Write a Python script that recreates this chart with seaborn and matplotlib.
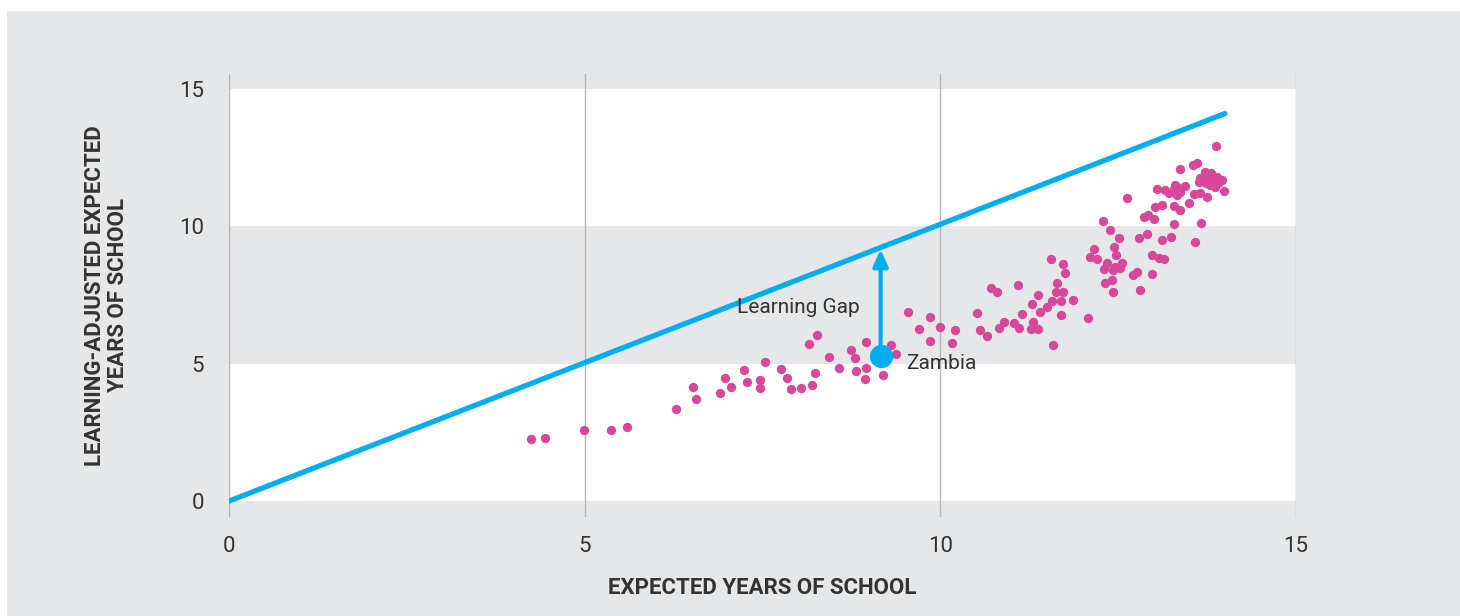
import numpy as np
import pandas as pd
import matplotlib
matplotlib.use('Agg')
import matplotlib.pyplot as plt
from matplotlib.patches import Rectangle
import seaborn as sns

# countries: expected years of school vs learning-adjusted expected years
exp_years = [4.25, 4.44, 4.99, 5.37, 5.60, 6.28, 6.52, 6.57, 6.90, 6.97, 7.06, 7.24, 7.28,
             7.46, 7.47, 7.53, 7.76, 7.85, 7.90, 8.04, 8.19, 8.24, 8.16, 8.26, 8.44, 8.57,
             8.75, 8.80, 8.81, 8.95, 8.96, 8.94, 9.19, 9.31, 9.37, 9.55, 9.70, 9.86, 9.86,
             10.00, 10.21, 10.16, 10.52, 10.56, 10.66, 10.71, 10.80, 10.82, 10.90, 11.03,
             11.10, 11.09, 11.15, 11.27, 11.30, 11.37, 11.29, 11.37, 11.40, 11.50, 11.57,
             11.62, 11.64, 11.69, 11.69, 11.73, 11.72, 11.75, 11.56, 11.58, 11.87, 12.08,
             12.10, 12.16, 12.20, 12.30, 12.35, 12.32, 12.41, 12.43, 12.44, 12.47, 12.51,
             12.39, 12.28, 12.46, 12.56, 12.43, 12.52, 12.71, 12.76, 12.81, 12.79, 12.98,
             12.97, 13.07, 13.15, 12.91, 13.12, 13.24, 13.28, 13.58, 13.67, 12.86, 12.92,
             13.00, 13.02, 13.11, 13.29, 13.37, 13.50, 12.63, 13.05, 13.16, 13.22, 13.28,
             13.33, 13.33, 13.37, 13.30, 13.44, 13.56, 13.65, 13.75, 13.99, 13.37, 13.55,
             13.61, 13.87, 13.63, 13.65, 13.72, 13.77, 13.80, 13.84, 13.89, 13.91, 13.96,
             13.86, 13.79, 13.74, 13.70]
lays = [2.25, 2.28, 2.57, 2.57, 2.69, 3.36, 4.16, 3.71, 3.94, 4.47, 4.16, 4.76, 4.33,
        4.40, 4.12, 5.06, 4.81, 4.49, 4.08, 4.12, 4.22, 4.66, 5.72, 6.03, 5.25, 4.85,
        5.51, 5.19, 4.74, 5.79, 4.84, 4.45, 4.60, 5.69, 5.35, 6.87, 6.26, 6.69, 5.82,
        6.33, 6.22, 5.74, 6.83, 6.22, 6.02, 7.74, 7.61, 6.30, 6.53, 6.49,
        6.28, 7.85, 6.80, 6.25, 6.53, 6.25, 7.17, 7.50, 6.87, 7.05, 7.28,
        7.60, 7.95, 7.28, 6.78, 7.60, 8.64, 8.29, 8.80, 5.67, 7.33, 6.67,
        8.89, 9.17, 8.80, 8.45, 8.65, 7.94, 8.05, 7.60, 9.24, 8.96, 9.56,
        9.87, 10.20, 8.53, 8.65, 8.41, 8.47, 8.23, 8.35, 7.68, 9.56, 8.28,
        8.94, 8.83, 8.79, 9.73, 9.51, 9.62, 10.08, 9.44, 10.13, 10.33, 10.41,
        10.27, 10.71, 10.79, 10.74, 10.59, 10.86, 11.03, 11.37, 11.32, 11.22, 11.35,
        11.44, 11.14, 11.26, 11.50, 11.47, 11.18, 11.20, 11.08, 11.30, 12.10, 12.23,
        12.29, 12.93, 11.62, 11.75, 11.99, 11.81, 11.93, 11.69, 11.81, 11.57, 11.69,
        11.44, 11.50, 11.57, 11.69]

zambia_x = 9.16
zambia_y = 5.27

line_x = [0, 14]
line_y = [0, 14.1]

ticks = [0, 5, 10, 15]

df = pd.DataFrame({'eys': exp_years, 'layS': lays})

BG = '#e6e7e8'
BLUE = '#00aeef'
PINK = '#d8489a'
TXT = '#333333'

sns.set_style('white')
plt.rcParams['font.family'] = ['Roboto', 'DejaVu Sans']

fig = plt.figure(figsize=(14.6, 6.16), dpi=100)
fig.patches.append(Rectangle((7 / 1460, 0), 1, 1 - 11 / 616, transform=fig.transFigure,
                             facecolor=BG, edgecolor='none', zorder=-10))

ax = fig.add_axes([229 / 1460, 1 - 517 / 616, (1296 - 229) / 1460, (517 - 74) / 616])
ax.set_facecolor(BG)
ax.set_xlim(0, 15)
ax.set_ylim(-0.58, 15.54)

# white bands
ax.axhspan(0, 5, color='white', zorder=0, lw=0)
ax.axhspan(10, 15, color='white', zorder=0, lw=0)

ax.set_xticks(ticks)
ax.set_yticks(ticks)
ax.grid(axis='x', color='#b5b5b5', lw=1, zorder=1)
ax.set_axisbelow(True)
for s in ax.spines.values():
    s.set_visible(False)
ax.tick_params(length=0, labelsize=16, labelcolor=TXT)
ax.tick_params(axis='x', pad=14)
ax.tick_params(axis='y', pad=18)

sns.lineplot(x=line_x, y=line_y, color=BLUE, lw=3.8, ax=ax, zorder=3,
             solid_capstyle='round')

sns.scatterplot(data=df, x='eys', y='layS', color=PINK, s=45, linewidth=0, ax=ax, zorder=4)

# learning gap arrow
ax.annotate('', xy=(zambia_x, zambia_x), xytext=(zambia_x, zambia_y),
            arrowprops=dict(arrowstyle='-|>,head_length=1.0,head_width=0.45', color=BLUE,
                            lw=3, shrinkA=0, shrinkB=0), zorder=5)
ax.scatter([zambia_x], [zambia_y], s=280, color=BLUE, zorder=6, linewidth=0)

ax.text(8.87, 7.03, 'Learning Gap', ha='right', va='center', fontsize=15, color=TXT)
ax.text(9.52, 5.02, 'Zambia', ha='left', va='center', fontsize=15, color=TXT)

ax.set_xlabel('EXPECTED YEARS OF SCHOOL', fontsize=16, fontweight='bold', color=TXT,
              labelpad=14)
ax.set_ylabel('LEARNING-ADJUSTED EXPECTED\nYEARS OF SCHOOL', fontsize=16, fontweight='bold',
              color=TXT, labelpad=36, linespacing=1.05)

fig.savefig('out.png', dpi=100)
